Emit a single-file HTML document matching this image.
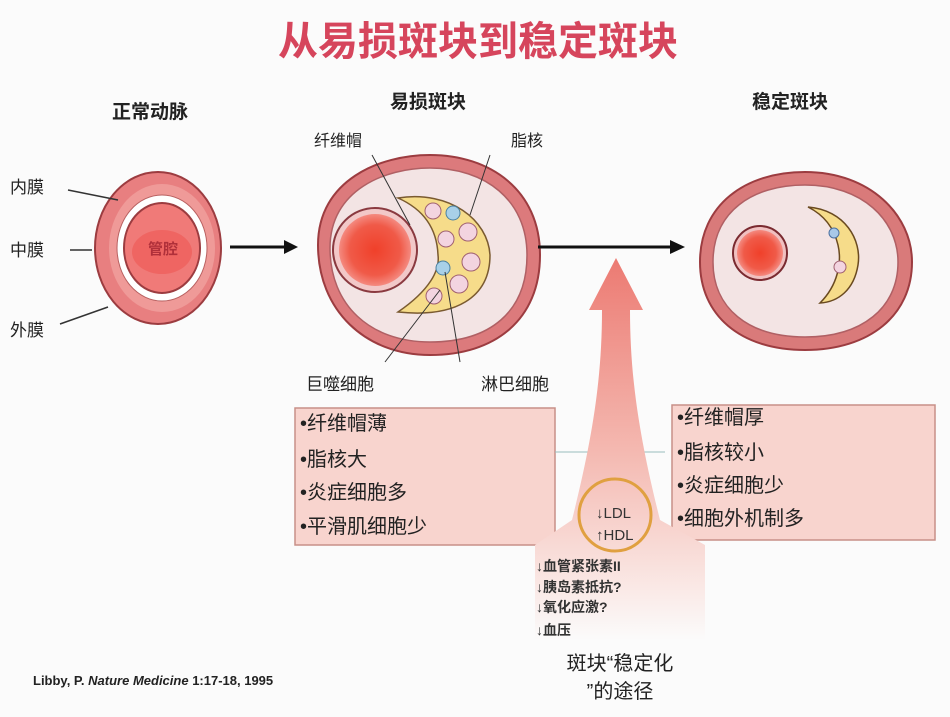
<!DOCTYPE html>
<html><head><meta charset="utf-8"><style>
html,body{margin:0;padding:0;background:#fbfbfb;}
svg text{font-family:"Liberation Sans","Noto Sans CJK SC",sans-serif;}
</style></head><body>
<svg width="950" height="712" viewBox="0 0 950 712" xmlns="http://www.w3.org/2000/svg">
<defs>
<radialGradient id="lum" cx="50%" cy="50%" r="50%"><stop offset="0" stop-color="#f0402a"/><stop offset="0.7" stop-color="#f05a48"/><stop offset="1" stop-color="#f48a80"/></radialGradient>
<linearGradient id="arr" x1="0" y1="0" x2="0" y2="1"><stop offset="0" stop-color="#ec7a72"/><stop offset="0.5" stop-color="#f4b8b0"/><stop offset="0.8" stop-color="#f9e0dc"/><stop offset="1" stop-color="#fbfbfb"/></linearGradient>
</defs>
<rect width="950" height="712" fill="#fbfbfb"/>
<text x="478" y="55" text-anchor="middle" font-size="40" font-weight="bold" fill="#d6455c">从易损斑块到稳定斑块</text>
<text x="150" y="118" text-anchor="middle" font-size="19" font-weight="bold" fill="#222">正常动脉</text>
<text x="428" y="108" text-anchor="middle" font-size="19" font-weight="bold" fill="#222">易损斑块</text>
<text x="790" y="108" text-anchor="middle" font-size="19" font-weight="bold" fill="#222">稳定斑块</text>

<ellipse cx="158" cy="248" rx="63" ry="76" fill="#e87f80" stroke="#9c3c40" stroke-width="2"/>
<ellipse cx="162" cy="248" rx="53" ry="64" fill="#ef9a98"/>
<ellipse cx="162" cy="248" rx="45" ry="53" fill="#fff" stroke="#b86060" stroke-width="1"/>
<ellipse cx="162" cy="248" rx="38" ry="45" fill="#f07a78" stroke="#9c3c40" stroke-width="2"/>
<ellipse cx="162" cy="252" rx="30" ry="22" fill="#ee5c58" opacity="0.7"/>
<text x="148" y="254" font-size="15" font-weight="bold" fill="#b0303a">管腔</text>
<text x="10" y="193" font-size="17" fill="#222">内膜</text>
<text x="10" y="256" font-size="17" fill="#222">中膜</text>
<text x="10" y="336" font-size="17" fill="#222">外膜</text>
<line x1="68" y1="190" x2="118" y2="200" stroke="#333" stroke-width="1.5"/>
<line x1="70" y1="250" x2="92" y2="250" stroke="#333" stroke-width="1.5"/>
<line x1="60" y1="324" x2="108" y2="307" stroke="#333" stroke-width="1.5"/>

<line x1="230" y1="247" x2="288" y2="247" stroke="#111" stroke-width="3"/>
<polygon points="298,247 284,240 284,254" fill="#111"/>

<path d="M318,245 C318,180 380,155 430,155 C490,155 540,190 540,255 C540,320 495,355 430,355 C365,355 318,310 318,245Z" fill="#dc7a7c" stroke="#9c3c40" stroke-width="2"/>
<path d="M330,248 C330,190 385,168 430,168 C485,168 527,200 527,255 C527,312 490,342 430,342 C370,342 330,305 330,248Z" fill="#f3e4e4" stroke="#b06064" stroke-width="1.5"/>
<path d="M398,198 C450,190 488,220 490,255 C490,298 455,318 398,312 C430,290 440,270 438,255 C437,230 425,210 398,198Z" fill="#f6dc8a" stroke="#7a5a30" stroke-width="1.5"/>
<g fill="#f3d4e0" stroke="#a06070" stroke-width="1">
<circle cx="433" cy="211" r="8"/><circle cx="468" cy="232" r="9"/><circle cx="446" cy="239" r="8"/><circle cx="471" cy="262" r="9"/><circle cx="459" cy="284" r="9"/><circle cx="434" cy="296" r="8"/>
</g>
<g fill="#a8d0e8" stroke="#4a80a0" stroke-width="1"><circle cx="453" cy="213" r="7"/><circle cx="443" cy="268" r="7"/></g>
<circle cx="375" cy="250" r="42" fill="#f2c8c8" stroke="#8a3a40" stroke-width="2"/>
<circle cx="375" cy="250" r="36" fill="url(#lum)"/>
<text x="338" y="146" text-anchor="middle" font-size="16" fill="#222">纤维帽</text>
<text x="527" y="146" text-anchor="middle" font-size="16" fill="#222">脂核</text>
<line x1="372" y1="155" x2="410" y2="225" stroke="#333" stroke-width="1"/>
<line x1="490" y1="155" x2="470" y2="215" stroke="#333" stroke-width="1"/>
<line x1="385" y1="362" x2="440" y2="290" stroke="#333" stroke-width="1"/>
<line x1="460" y1="362" x2="445" y2="272" stroke="#333" stroke-width="1"/>
<text x="340" y="390" text-anchor="middle" font-size="17" fill="#222">巨噬细胞</text>
<text x="515" y="390" text-anchor="middle" font-size="17" fill="#222">淋巴细胞</text>

<line x1="538" y1="247" x2="672" y2="247" stroke="#111" stroke-width="3"/>
<polygon points="685,247 670,240 670,254" fill="#111"/>

<path d="M700,262 C700,205 745,172 805,172 C870,172 912,215 912,262 C912,315 870,350 805,350 C740,350 700,315 700,262Z" fill="#d97a7a" stroke="#9c3c40" stroke-width="2"/>
<path d="M713,262 C713,212 752,185 805,185 C862,185 898,220 898,262 C898,308 862,337 805,337 C748,337 713,308 713,262Z" fill="#f3e4e4" stroke="#b06064" stroke-width="1.5"/>
<path d="M808,207 C845,210 862,240 858,265 C854,290 838,302 820,303 C838,285 842,262 838,245 C834,228 824,215 808,207Z" fill="#f6dc8a" stroke="#6a4a20" stroke-width="1.5"/>
<circle cx="834" cy="233" r="5" fill="#a8c8e8" stroke="#4a70a0"/>
<circle cx="840" cy="267" r="6" fill="#f3d4e0" stroke="#a06070"/>
<circle cx="760" cy="253" r="27" fill="#f0c0c0" stroke="#7a2a30" stroke-width="2"/>
<circle cx="760" cy="253" r="23" fill="url(#lum)"/>

<rect x="295" y="408" width="260" height="137" fill="#f8d4ce" stroke="#c89088" stroke-width="1.5"/>
<g font-size="20" fill="#222">
<text x="300" y="430">•纤维帽薄</text>
<text x="300" y="466">•脂核大</text>
<text x="300" y="499">•炎症细胞多</text>
<text x="300" y="533">•平滑肌细胞少</text>
</g>
<rect x="672" y="405" width="263" height="135" fill="#f8d4ce" stroke="#c89088" stroke-width="1.5"/>
<g font-size="20" fill="#222">
<text x="677" y="424">•纤维帽厚</text>
<text x="677" y="459">•脂核较小</text>
<text x="677" y="492">•炎症细胞少</text>
<text x="677" y="525">•细胞外机制多</text>
</g>
<line x1="555" y1="452" x2="665" y2="452" stroke="#9abcbc" stroke-width="1"/>

<path d="M616,258 L643,310 L630,310 C630,380 640,440 660,520 L705,545 L705,640 L535,640 L535,545 L572,520 C592,440 602,380 602,310 L589,310 Z" fill="url(#arr)"/>
<circle cx="615" cy="515" r="36" fill="none" stroke="#e0a040" stroke-width="3"/>
<text x="596" y="518" font-size="15" fill="#333">↓LDL</text>
<text x="596" y="540" font-size="15" fill="#333">↑HDL</text>
<g font-size="14" fill="#333" font-weight="bold">
<text x="536" y="571">↓血管紧张素II</text>
<text x="536" y="592">↓胰岛素抵抗?</text>
<text x="536" y="612">↓氧化应激?</text>
<text x="536" y="635">↓血压</text>
</g>
<text x="620" y="670" text-anchor="middle" font-size="20" fill="#222">斑块“稳定化</text>
<text x="620" y="698" text-anchor="middle" font-size="20" fill="#222">”的途径</text>

<text x="33" y="685" font-size="13" font-weight="bold" fill="#222">Libby, P. <tspan font-style="italic">Nature Medicine</tspan> 1:17-18, 1995</text>
</svg>
</body></html>
